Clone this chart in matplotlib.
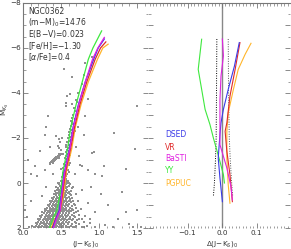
import matplotlib
matplotlib.use("Agg")
import matplotlib.pyplot as plt
from matplotlib.ticker import MultipleLocator, FixedLocator, FuncFormatter

# ---- data ----
# isochrones in the CMD: (J-Ks)_0 at given M_Ks
iso_mag = [2.0, 1.6, 1.2, 0.5, -0.5, -1.5, -2.5, -3.5, -4.5, -5.5, -6.0]
iso_top = {'YY': (1.035, -6.76), 'DSED': (1.07, -6.40), 'VR': (1.09, -6.27),
           'BaSTI': (1.07, -6.47), 'PGPUC': (1.12, -6.17)}
iso_yy = [0.35, 0.39, 0.445, 0.49, 0.525, 0.585, 0.63, 0.70, 0.78, 0.86, 0.92]
iso_dsed = [0.39, 0.43, 0.48, 0.505, 0.545, 0.61, 0.66, 0.73, 0.82, 0.93, 0.99]
iso_vr = [0.385, 0.43, 0.49, 0.52, 0.56, 0.625, 0.68, 0.75, 0.84, 0.95, 1.02]
iso_basti = [0.40, 0.44, 0.49, 0.51, 0.55, 0.615, 0.665, 0.735, 0.82, 0.915, 0.985]
iso_pgpuc = [0.37, 0.42, 0.49, 0.535, 0.57, 0.64, 0.69, 0.765, 0.86, 0.98, 1.05]

# residuals Delta(J-Ks) vs M_Ks
res_yy_mag = [-6.39, -5.05, -3.27, -2.6, -2.0, -0.96, -0.37, 0.0]
res_yy = [-0.059, -0.069, -0.049, -0.035, -0.025, -0.006, 0.004, 0.007]
res_basti_mag = [-6.4, -5.65, -4.75, -3.7, -1.7, -0.67, 0.16, 0.75]
res_basti = [0.001, 0.004, -0.003, -0.006, -0.006, 0.014, 0.026, 0.030]
res_dsed_mag = [-6.24, -5.2, -4.16, -3.27, -2.67, -2.15, -1.11, -0.22, 0.83]
res_dsed = [0.050, 0.036, 0.018, 0.004, -0.003, -0.006, -0.011, -0.006, 0.001]
res_vr_mag = [-6.24, -5.05, -3.86, -2.67, -2.3, -1.41, -0.37, 0.83]
res_vr = [0.052, 0.038, 0.023, 0.014, 0.009, 0.014, 0.023, 0.030]
res_pgpuc_mag = [-6.21, -5.72, -5.05, -4.16, -3.12, -2.3, -1.11, 0.08, 0.9]
res_pgpuc = [0.084, 0.067, 0.047, 0.033, 0.018, 0.014, 0.014, 0.018, 0.023]
err_mag = [-6.4, -4.0, -2.0, -1.0, 0.0, 0.6]
err_lo = [-0.015, -0.016, -0.017, -0.019, -0.022, -0.025]
err_hi = [0.018, 0.019, 0.021, 0.024, 0.028, 0.031]

# stars: sparse upper giant branch and field
upper_stars = [(0.82, -5.35), (0.54, -5.08), (0.64, -4.73), (0.62, -3.94), (0.575, -3.86),
               (0.56, -3.57), (0.57, -3.42), (0.64, -3.52), (0.71, -3.58), (0.86, -3.74),
               (0.82, -2.97), (0.33, -2.97), (1.50, -3.42), (0.68, -3.2), (0.66, -3.0),
               (0.69, -2.85), (0.63, -2.75), (0.73, -4.0), (0.77, -4.4), (0.80, -4.8),
               (0.91, -5.6), (0.70, -3.7), (0.67, -3.35), (0.65, -2.9), (0.72, -3.05)]
rgb_stars = [(0.64, -2.7), (0.66, -2.62), (0.63, -2.55), (0.67, -2.48), (0.62, -2.4),
             (0.65, -2.35), (0.61, -2.28), (0.64, -2.2), (0.60, -2.15), (0.66, -2.1),
             (0.62, -2.05), (0.59, -1.98), (0.63, -1.92), (0.61, -1.86), (0.58, -1.8),
             (0.64, -1.75), (0.60, -1.7), (0.62, -1.64), (0.57, -1.6), (0.60, -1.55),
             (0.63, -1.5), (0.58, -1.45), (0.61, -1.4), (0.56, -1.36), (0.59, -1.3),
             (0.62, -1.25), (0.57, -1.2), (0.60, -1.15), (0.55, -1.1), (0.58, -1.05),
             (0.61, -1.0), (0.56, -0.95), (0.59, -0.9), (0.54, -0.86), (0.57, -0.82),
             (0.60, -0.78), (0.55, -0.74), (0.58, -0.7), (0.53, -0.66), (0.56, -0.62),
             (0.59, -0.58), (0.54, -0.54), (0.57, -0.5), (0.52, -0.46), (0.55, -0.42),
             (0.58, -0.38), (0.53, -0.34), (0.56, -0.3), (0.51, -0.26), (0.54, -0.22),
             (0.57, -0.18), (0.60, -0.5), (0.50, -0.6), (0.62, -0.9), (0.53, -1.3),
             (0.65, -1.9), (0.56, -1.7), (0.68, -2.3), (0.44, -2.1), (0.47, -1.95),
             (0.49, -1.8), (0.46, -1.65), (0.51, -2.0), (0.48, -1.55), (0.50, -1.45)]
hb_stars = [(0.355, -0.9), (0.37, -0.95), (0.38, -0.92), (0.39, -1.0), (0.40, -1.03),
            (0.41, -0.98), (0.42, -1.08), (0.43, -1.1), (0.44, -1.05), (0.45, -1.15),
            (0.46, -1.18), (0.47, -1.12), (0.48, -1.22), (0.49, -1.25), (0.50, -1.3),
            (0.36, -0.86), (0.385, -0.97), (0.405, -1.06), (0.425, -1.02), (0.445, -1.12),
            (0.465, -1.2), (0.475, -1.27), (0.39, -0.9), (0.415, -1.1), (0.435, -1.16)]
field_stars = [(0.29, -2.15), (0.43, -2.08), (0.80, -2.15), (0.72, -2.5), (0.91, -1.33),
               (0.93, -1.36), (0.75, -0.81), (0.78, -0.75), (0.86, -0.59), (1.06, -0.74),
               (1.04, -0.29), (0.23, -1.41), (0.16, -0.74), (0.29, -0.59), (0.18, -0.29),
               (0.70, -1.6), (0.74, -1.2), (0.68, -0.4), (0.95, -0.4), (0.40, -0.4),
               (0.35, -1.6), (0.30, -2.5), (1.48, -1.5), (1.2, -2.2), (0.07, -1.0),
               (0.10, -0.4), (1.35, -0.6), (0.90, 0.2), (1.02, 0.5), (0.85, 0.9),
               (0.95, 1.3), (1.12, 1.0), (1.25, 1.6), (1.40, 1.8), (1.50, 1.2),
               (0.10, 0.8), (0.05, 1.5), (0.12, 1.9), (1.08, 1.85), (0.88, 1.6),
               (0.78, 0.3), (0.72, 0.8), (1.30, 0.4), (1.45, 1.95), (0.30, 0.2),
               (0.25, 0.6), (1.18, 1.95), (1.55, 1.97), (0.08, 1.95), (0.95, 1.95),
               (0.02, 1.2), (1.35, 1.3)]
# lower main cloud, one row per magnitude
cloud_rows = [
    (-0.10, [0.50, 0.53, 0.56, 0.59]),
    (-0.02, [0.48, 0.52, 0.55, 0.58]),
    (0.06, [0.47, 0.51, 0.54, 0.57, 0.62]),
    (0.14, [0.49, 0.52, 0.55, 0.60]),
    (0.22, [0.46, 0.50, 0.53, 0.56, 0.64]),
    (0.30, [0.45, 0.48, 0.51, 0.54, 0.58]),
    (0.38, [0.47, 0.50, 0.53, 0.57, 0.61]),
    (0.46, [0.43, 0.46, 0.49, 0.52, 0.55, 0.59]),
    (0.54, [0.44, 0.48, 0.51, 0.54, 0.57, 0.63]),
    (0.62, [0.41, 0.45, 0.49, 0.52, 0.55, 0.60]),
    (0.70, [0.40, 0.44, 0.47, 0.50, 0.53, 0.57, 0.62]),
    (0.78, [0.38, 0.42, 0.46, 0.49, 0.52, 0.56, 0.60, 0.66]),
    (0.86, [0.37, 0.41, 0.45, 0.48, 0.51, 0.54, 0.58, 0.63]),
    (0.94, [0.35, 0.39, 0.43, 0.47, 0.50, 0.53, 0.57, 0.61, 0.67]),
    (1.02, [0.34, 0.38, 0.42, 0.45, 0.48, 0.51, 0.55, 0.59, 0.64]),
    (1.10, [0.32, 0.36, 0.40, 0.44, 0.47, 0.50, 0.53, 0.57, 0.62, 0.70]),
    (1.18, [0.30, 0.35, 0.39, 0.42, 0.45, 0.48, 0.52, 0.56, 0.60, 0.66]),
    (1.26, [0.29, 0.33, 0.37, 0.41, 0.44, 0.47, 0.50, 0.54, 0.58, 0.63, 0.72]),
    (1.34, [0.27, 0.32, 0.36, 0.39, 0.43, 0.46, 0.49, 0.52, 0.56, 0.61, 0.67]),
    (1.42, [0.25, 0.30, 0.34, 0.38, 0.41, 0.44, 0.47, 0.51, 0.55, 0.59, 0.65, 0.74]),
    (1.50, [0.24, 0.29, 0.33, 0.36, 0.40, 0.43, 0.46, 0.49, 0.53, 0.57, 0.62, 0.69]),
    (1.58, [0.22, 0.27, 0.31, 0.35, 0.38, 0.41, 0.44, 0.48, 0.51, 0.55, 0.60, 0.66, 0.78]),
    (1.66, [0.21, 0.26, 0.30, 0.33, 0.37, 0.40, 0.43, 0.46, 0.50, 0.54, 0.58, 0.64, 0.71]),
    (1.74, [0.20, 0.24, 0.28, 0.32, 0.35, 0.38, 0.41, 0.45, 0.48, 0.52, 0.56, 0.61, 0.68, 0.80]),
    (1.82, [0.18, 0.23, 0.27, 0.30, 0.34, 0.37, 0.40, 0.43, 0.47, 0.50, 0.54, 0.59, 0.65, 0.74]),
    (1.90, [0.17, 0.21, 0.25, 0.29, 0.32, 0.35, 0.39, 0.42, 0.45, 0.49, 0.53, 0.57, 0.63, 0.70, 0.84]),
    (1.97, [0.16, 0.20, 0.24, 0.27, 0.31, 0.34, 0.37, 0.41, 0.44, 0.48, 0.52, 0.56, 0.61, 0.68, 0.77]),
]
# further stars filling the same cloud between the rows above
cloud_rows_b = [
    (0.02, [0.455, 0.535, 0.61]),
    (0.18, [0.435, 0.515, 0.575, 0.66]),
    (0.34, [0.42, 0.495, 0.565, 0.63]),
    (0.50, [0.405, 0.475, 0.535, 0.615, 0.70]),
    (0.66, [0.385, 0.465, 0.505, 0.585, 0.65]),
    (0.82, [0.355, 0.435, 0.475, 0.545, 0.625, 0.72]),
    (0.98, [0.325, 0.405, 0.455, 0.525, 0.585, 0.69]),
    (1.14, [0.285, 0.375, 0.425, 0.495, 0.555, 0.645, 0.76]),
    (1.30, [0.255, 0.345, 0.395, 0.455, 0.525, 0.605, 0.70]),
    (1.46, [0.225, 0.315, 0.365, 0.425, 0.505, 0.575, 0.67, 0.82]),
    (1.62, [0.195, 0.285, 0.345, 0.405, 0.465, 0.535, 0.625, 0.74]),
    (1.78, [0.17, 0.255, 0.315, 0.385, 0.445, 0.515, 0.595, 0.70, 0.88]),
    (1.94, [0.145, 0.225, 0.295, 0.355, 0.425, 0.495, 0.575, 0.66, 0.80]),
]

info_lines = ['NGC0362', '(m$-$M)$_0$=14.76', 'E(B$-$V)=0.023',
              '[Fe/H]=$-$1.30', r'[$\alpha$/Fe]=0.4']
models = ['DSED', 'VR', 'BaSTI', 'YY', 'PGPUC']
legend_mag = [-2.15, -1.57, -1.08, -0.54, 0.0]
colors = {'DSED': '#3a3ae8', 'VR': '#e02a2a', 'BaSTI': '#e020e0',
          'YY': '#3ee83e', 'PGPUC': '#ffb52a'}

plt.rcParams['font.family'] = ['DejaVu Sans']
plt.rcParams['font.size'] = 5.5
txtc = '#333333'


def minus(fmt):
    return FuncFormatter(lambda v, p: (fmt % v).replace('-', '\u2212'))


fig = plt.figure(figsize=(2.91, 2.49), dpi=100)
ax1 = fig.add_axes([23/291, 1 - 228/249, 125/291, 225/249])
ax2 = fig.add_axes([148/291, 1 - 228/249, 142/291, 225/249])

# ---- left: CMD ----
stars = upper_stars + rgb_stars + hb_stars + field_stars
for m, xs in cloud_rows + cloud_rows_b:
    stars = stars + [(x, m) for x in xs]
sx = [s[0] for s in stars]
sy = [s[1] for s in stars]
ax1.scatter(sx, sy, s=2.2, marker='s', color='#8f8f8f', linewidths=0, zorder=1)

iso = {'YY': iso_yy, 'DSED': iso_dsed, 'VR': iso_vr, 'BaSTI': iso_basti, 'PGPUC': iso_pgpuc}
for name in ['PGPUC', 'VR', 'YY', 'DSED', 'BaSTI']:
    xs = iso[name] + [iso_top[name][0]]
    ys = iso_mag + [iso_top[name][1]]
    ax1.plot(xs, ys, color=colors[name], lw=0.9, zorder=2)

for i, line in enumerate(info_lines):
    ax1.text(0.066, -7.6 + i * 0.5, line, fontsize=5.5, color=txtc, va='center')

ax1.set_xlim(0, 1.645)
ax1.set_ylim(2, -8)
ax1.xaxis.set_major_locator(MultipleLocator(0.5))
ax1.xaxis.set_minor_locator(MultipleLocator(0.1))
ax1.yaxis.set_major_locator(MultipleLocator(2))
ax1.yaxis.set_minor_locator(MultipleLocator(0.5))
ax1.xaxis.set_major_formatter(minus('%.1f'))
ax1.yaxis.set_major_formatter(minus('%d'))
ax1.set_xlabel('(J$-$K$_S$)$_0$', fontsize=5.2, color=txtc)
ax1.set_ylabel('M$_{K_S}$', fontsize=5.2, color=txtc)
ax1.xaxis.set_label_coords(0.5, -0.048)
ax1.yaxis.set_label_coords(-0.095, 0.53)

# ---- right: residuals ----
ax2.axvline(0, color='#888888', lw=1.0, zorder=1)
ax2.plot(err_lo, err_mag, color='black', lw=0.7, ls=(0, (1, 1.5)), zorder=2)
ax2.plot(err_hi, err_mag, color='#555555', lw=0.7, ls=(0, (1, 1.5)), zorder=2)
res = {'YY': (res_yy, res_yy_mag), 'BaSTI': (res_basti, res_basti_mag),
       'DSED': (res_dsed, res_dsed_mag), 'VR': (res_vr, res_vr_mag),
       'PGPUC': (res_pgpuc, res_pgpuc_mag)}
for name in ['PGPUC', 'VR', 'YY', 'DSED', 'BaSTI']:
    ax2.plot(res[name][0], res[name][1], color=colors[name], lw=0.8, zorder=3)

for name, m in zip(models, legend_mag):
    ax2.text(-0.165, m, name, color=colors[name], fontsize=5.5, va='center')

ax2.set_xlim(-0.2145, 0.197)
ax2.set_ylim(2, -8)
ax2.xaxis.set_major_locator(FixedLocator([-0.1, 0.0, 0.1]))
ax2.xaxis.set_minor_locator(MultipleLocator(0.01))
ax2.yaxis.set_major_locator(MultipleLocator(1))
ax2.yaxis.set_minor_locator(MultipleLocator(0.5))
ax2.xaxis.set_major_formatter(minus('%.1f'))
ax2.set_xlabel(r'$\Delta$(J$-$K$_S$)$_0$', fontsize=5.2, color=txtc)
ax2.xaxis.set_label_coords(0.52, -0.048)

for ax in (ax1, ax2):
    ax.tick_params(which='both', direction='in', top=True, right=True,
                   color='#777777', labelcolor=txtc, labelsize=5.2, pad=1.5)
    ax.tick_params(which='major', length=3.5, width=0.6)
    ax.tick_params(which='minor', length=1.8, width=0.5)
    for side in ('bottom', 'right', 'left'):
        ax.spines[side].set_visible(False)
    ax.spines['top'].set_color('#777777')
    ax.spines['top'].set_linewidth(0.8)
ax2.tick_params(axis='y', which='both', labelleft=False)
ax1.spines['left'].set_visible(True)
ax1.spines['left'].set_color('#777777')
ax1.spines['left'].set_linewidth(0.8)

fig.savefig('out.png', dpi=100)
